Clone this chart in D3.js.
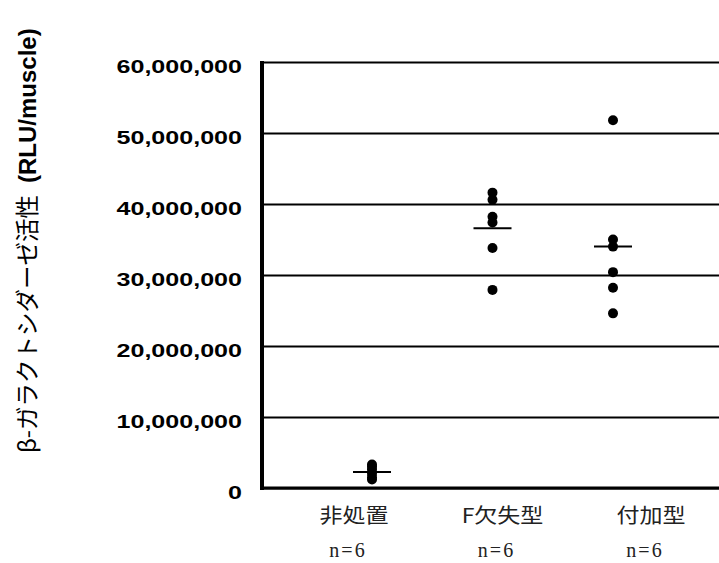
<!DOCTYPE html>
<html><head><meta charset="utf-8">
<script src="https://cdn.jsdelivr.net/npm/d3@7/dist/d3.min.js"></script>
<style>body{margin:0;background:#fff}</style>
</head><body>
<svg id="c" width="719" height="563"></svg>
<script>
const categories = ["非処置", "F欠失型", "付加型"];
const nLabels = ["n=6", "n=6", "n=6"];
const valuesUntreated = [3300000, 3000000, 2600000, 2000000, 1500000, 1200000];
const valuesDeletion = [41600000, 40600000, 38200000, 37400000, 33800000, 27900000];
const valuesAddition = [51800000, 35000000, 34000000, 30400000, 28200000, 24600000];
const tickValues = [0, 10000000, 20000000, 30000000, 40000000, 50000000, 60000000];
const tickLabels = ["0", "10,000,000", "20,000,000", "30,000,000", "40,000,000", "50,000,000", "60,000,000"];
const yTitleJa = "β-ガラクトシダーゼ活性";
const yTitleEn = "(RLU/muscle)";

(function () {
const groups = [valuesUntreated, valuesDeletion, valuesAddition];

const svg = d3.select("#c");
const mLeft = 262, mRight = 719, mTop = 62, mBottom = 488;

const y = d3.scaleLinear().domain([0, 60000000]).range([mBottom, mTop]);
const x = d3.scalePoint().domain(categories).range([372, 613]);
const xl = d3.scalePoint().domain(categories).range([354, 651]);

// grid + axis
const ax = svg.append("g").attr("transform", `translate(${mLeft},0)`)
  .call(d3.axisLeft(y).tickValues(tickValues).tickSize(-(mRight - mLeft)).tickPadding(20)
    .tickFormat((d, i) => tickLabels[i]));
ax.select(".domain").remove();
ax.selectAll(".tick line").attr("stroke", "#000").attr("stroke-width", 2);
ax.selectAll(".tick text")
  .attr("font-family", "'Liberation Sans', Arial, sans-serif")
  .attr("font-weight", "bold").attr("font-size", 19).attr("fill", "#000")
  .attr("dy", "0.55em")
  .each(function () {
    const w = this.getComputedTextLength();
    d3.select(this).attr("textLength", w * 1.32).attr("lengthAdjust", "spacingAndGlyphs");
  });

// left axis and bottom axis lines
svg.append("line").attr("x1", mLeft).attr("x2", mLeft).attr("y1", mTop - 1).attr("y2", mBottom + 2)
  .attr("stroke", "#000").attr("stroke-width", 4);
svg.append("line").attr("x1", mLeft).attr("x2", mRight).attr("y1", y(0)).attr("y2", y(0))
  .attr("stroke", "#000").attr("stroke-width", 3);

// mean lines and points
const g = svg.append("g");
groups.forEach((vals, i) => {
  const cx = x(categories[i]);
  const m = d3.mean(vals);
  g.append("line").attr("x1", cx - 19).attr("x2", cx + 19).attr("y1", y(m)).attr("y2", y(m))
    .attr("stroke", "#000").attr("stroke-width", 2);
  g.selectAll(null).data(vals).enter().append("circle")
    .attr("cx", cx).attr("cy", d => y(d)).attr("r", 5).attr("fill", "#000");
});

// category labels
categories.forEach((c, i) => {
  const t = svg.append("text").attr("x", xl(c)).attr("y", 523).attr("text-anchor", "middle")
    .attr("font-family", "'Noto Sans CJK JP', sans-serif").attr("font-size", 20).attr("fill", "#222")
    .text(c);
  const w = t.node().getComputedTextLength();
  t.attr("textLength", w * 1.15).attr("lengthAdjust", "spacingAndGlyphs");
  svg.append("text").attr("x", xl(c) - 6).attr("y", 557).attr("text-anchor", "middle")
    .attr("font-family", "'Liberation Serif', serif").attr("font-size", 20).attr("fill", "#222")
    .attr("letter-spacing", 2)
    .text(nLabels[i]);
});

// y title
const yt = svg.append("text").attr("transform", "translate(36,453) rotate(-90)")
  .attr("fill", "#000");
yt.append("tspan").attr("font-family", "'Noto Sans CJK JP', sans-serif").attr("font-size", 23.5)
  .text(yTitleJa);
yt.append("tspan").attr("dx", 12).attr("font-family", "'Liberation Sans', Arial, sans-serif")
  .attr("font-weight", "bold").attr("font-size", 24).text(yTitleEn);
})();
</script>
</body></html>
